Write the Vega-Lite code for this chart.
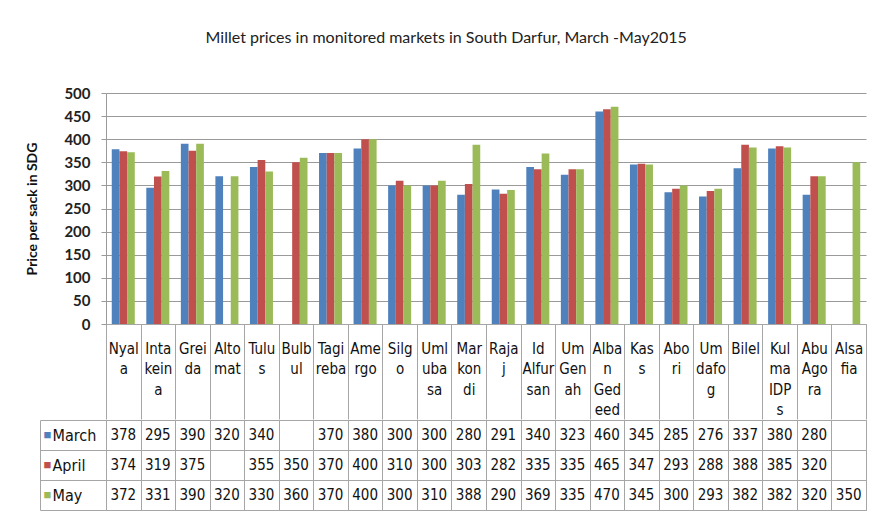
{
  "$schema": "https://vega.github.io/schema/vega-lite/v6.json",
  "background": "white",
  "padding": {"left": 25, "top": 30, "right": 10, "bottom": 5},
  "title": {
    "text": "Millet prices in monitored markets in South Darfur, March -May2015",
    "font": "Lato",
    "fontSize": 16,
    "fontWeight": "normal",
    "color": "#222222",
    "anchor": "middle",
    "offset": 40
  },
  "data": {
    "values": [
      {"market": "Nyala", "month": "March", "price": 378},
      {"market": "Nyala", "month": "April", "price": 374},
      {"market": "Nyala", "month": "May", "price": 372},
      {"market": "Intakeina", "month": "March", "price": 295},
      {"market": "Intakeina", "month": "April", "price": 319},
      {"market": "Intakeina", "month": "May", "price": 331},
      {"market": "Greida", "month": "March", "price": 390},
      {"market": "Greida", "month": "April", "price": 375},
      {"market": "Greida", "month": "May", "price": 390},
      {"market": "Altomat", "month": "March", "price": 320},
      {"market": "Altomat", "month": "May", "price": 320},
      {"market": "Tulus", "month": "March", "price": 340},
      {"market": "Tulus", "month": "April", "price": 355},
      {"market": "Tulus", "month": "May", "price": 330},
      {"market": "Bulbul", "month": "April", "price": 350},
      {"market": "Bulbul", "month": "May", "price": 360},
      {"market": "Tagireba", "month": "March", "price": 370},
      {"market": "Tagireba", "month": "April", "price": 370},
      {"market": "Tagireba", "month": "May", "price": 370},
      {"market": "Amergo", "month": "March", "price": 380},
      {"market": "Amergo", "month": "April", "price": 400},
      {"market": "Amergo", "month": "May", "price": 400},
      {"market": "Silgo", "month": "March", "price": 300},
      {"market": "Silgo", "month": "April", "price": 310},
      {"market": "Silgo", "month": "May", "price": 300},
      {"market": "Umlubasa", "month": "March", "price": 300},
      {"market": "Umlubasa", "month": "April", "price": 300},
      {"market": "Umlubasa", "month": "May", "price": 310},
      {"market": "Markondi", "month": "March", "price": 280},
      {"market": "Markondi", "month": "April", "price": 303},
      {"market": "Markondi", "month": "May", "price": 388},
      {"market": "Rajaj", "month": "March", "price": 291},
      {"market": "Rajaj", "month": "April", "price": 282},
      {"market": "Rajaj", "month": "May", "price": 290},
      {"market": "Id Alfursan", "month": "March", "price": 340},
      {"market": "Id Alfursan", "month": "April", "price": 335},
      {"market": "Id Alfursan", "month": "May", "price": 369},
      {"market": "Um Genah", "month": "March", "price": 323},
      {"market": "Um Genah", "month": "April", "price": 335},
      {"market": "Um Genah", "month": "May", "price": 335},
      {"market": "Alban Gedeed", "month": "March", "price": 460},
      {"market": "Alban Gedeed", "month": "April", "price": 465},
      {"market": "Alban Gedeed", "month": "May", "price": 470},
      {"market": "Kass", "month": "March", "price": 345},
      {"market": "Kass", "month": "April", "price": 347},
      {"market": "Kass", "month": "May", "price": 345},
      {"market": "Abori", "month": "March", "price": 285},
      {"market": "Abori", "month": "April", "price": 293},
      {"market": "Abori", "month": "May", "price": 300},
      {"market": "Um dafog", "month": "March", "price": 276},
      {"market": "Um dafog", "month": "April", "price": 288},
      {"market": "Um dafog", "month": "May", "price": 293},
      {"market": "Bilel", "month": "March", "price": 337},
      {"market": "Bilel", "month": "April", "price": 388},
      {"market": "Bilel", "month": "May", "price": 382},
      {"market": "Kulma IDPs", "month": "March", "price": 380},
      {"market": "Kulma IDPs", "month": "April", "price": 385},
      {"market": "Kulma IDPs", "month": "May", "price": 382},
      {"market": "Abu Agora", "month": "March", "price": 280},
      {"market": "Abu Agora", "month": "April", "price": 320},
      {"market": "Abu Agora", "month": "May", "price": 320},
      {"market": "Alsafia", "month": "May", "price": 350}
    ]
  },
  "spacing": -12,
  "vconcat": [
    {
      "width": 760,
      "height": 231,
      "view": {"stroke": null},
      "mark": {"type": "bar"},
      "encoding": {
        "x": {
          "field": "market",
          "type": "nominal",
          "sort": null,
          "scale": {"paddingInner": 0, "paddingOuter": 0},
          "axis": {
            "title": null,
            "orient": "bottom",
            "tickBand": "extent",
            "tickSize": 95,
            "tickColor": "#a6a6a6",
            "domainColor": "#a6a6a6",
            "labelAngle": 0,
            "labelOverlap": false,
            "labelBaseline": "top",
            "labelPadding": -78,
            "labelFont": "DejaVu Sans Condensed, Liberation Sans",
            "labelFontSize": 15,
            "labelLineHeight": 20.5,
            "labelColor": "#111111",
            "labelExpr": "{'Nyala':['Nyal','a'],'Intakeina':['Inta','kein','a'],'Greida':['Grei','da'],'Altomat':['Alto','mat'],'Tulus':['Tulu','s'],'Bulbul':['Bulb','ul'],'Tagireba':['Tagi','reba'],'Amergo':['Ame','rgo'],'Silgo':['Silg','o'],'Umlubasa':['Uml','uba','sa'],'Markondi':['Mar','kon','di'],'Rajaj':['Raja','j'],'Id Alfursan':['Id','Alfur','san'],'Um Genah':['Um','Gen','ah'],'Alban Gedeed':['Alba','n','Ged','eed'],'Kass':['Kas','s'],'Abori':['Abo','ri'],'Um dafog':['Um','dafo','g'],'Bilel':['Bilel'],'Kulma IDPs':['Kul','ma','IDP','s'],'Abu Agora':['Abu','Ago','ra'],'Alsafia':['Alsa','fia']}[datum.value]"
          }
        },
        "xOffset": {
          "field": "month",
          "type": "nominal",
          "sort": ["March", "April", "May"],
          "scale": {"paddingInner": 0, "paddingOuter": 0.75}
        },
        "y": {
          "field": "price",
          "type": "quantitative",
          "scale": {"domain": [0, 500], "nice": false},
          "axis": {
            "title": "Price per sack in SDG",
            "titleFont": "Lato",
            "titleFontSize": 14,
            "titleFontWeight": "bold",
            "titleColor": "#111111",
            "titlePadding": 24,
            "values": [0, 50, 100, 150, 200, 250, 300, 350, 400, 450, 500],
            "labelFont": "Lato",
            "labelFontSize": 15,
            "labelFontWeight": "bold",
            "labelColor": "#222222",
            "labelPadding": 11,
            "tickSize": 5,
            "tickColor": "#9a9a9a",
            "domainColor": "#9a9a9a",
            "grid": true,
            "gridColor": "#9a9a9a",
            "gridWidth": 1
          }
        },
        "color": {
          "field": "month",
          "type": "nominal",
          "sort": ["March", "April", "May"],
          "scale": {"domain": ["March", "April", "May"], "range": ["#4f81bd", "#c0504d", "#9bbb59"]},
          "legend": null
        }
      }
    },
    {
      "width": 760,
      "height": 90,
      "view": {"stroke": "#a6a6a6"},
      "resolve": {"axis": {"y": "independent"}},
      "layer": [
        {
          "mark": {"type": "text", "font": "DejaVu Sans Condensed, Liberation Sans", "fontSize": 15, "color": "#111111", "align": "center", "baseline": "middle"},
          "encoding": {
            "x": {
              "field": "market",
              "type": "nominal",
              "sort": null,
              "axis": {
                "title": null,
                "orient": "top",
                "labels": false,
                "ticks": false,
                "domain": false,
                "grid": true,
                "tickBand": "extent",
                "gridColor": "#a6a6a6"
              }
            },
            "y": {
              "field": "month",
              "type": "nominal",
              "sort": ["March", "April", "May"],
              "axis": {
                "title": null,
                "orient": "left",
                "tickBand": "extent",
                "tickSize": 66,
                "tickColor": "#a6a6a6",
                "domain": false,
                "grid": true,
                "gridColor": "#a6a6a6",
                "labelAlign": "left",
                "labelPadding": -12,
                "labelFont": "DejaVu Sans Condensed, Liberation Sans",
                "labelFontSize": 16,
                "labelColor": "#111111"
              }
            },
            "text": {"field": "price", "type": "quantitative"}
          }
        },
        {
          "mark": {"type": "point", "opacity": 0},
          "encoding": {
            "y": {
              "field": "month",
              "type": "nominal",
              "sort": ["March", "April", "May"],
              "axis": {
                "title": null,
                "orient": "left",
                "offset": 66,
                "domain": true,
                "domainColor": "#a6a6a6",
                "ticks": false,
                "tickSize": 0,
                "grid": false,
                "labelAlign": "left",
                "labelPadding": -3,
                "labelFontSize": 13,
                "labelExpr": "'■'",
                "labelColor": {"expr": "datum.value == 'March' ? '#4f81bd' : datum.value == 'April' ? '#c0504d' : '#9bbb59'"}
              }
            }
          }
        }
      ]
    }
  ]
}
